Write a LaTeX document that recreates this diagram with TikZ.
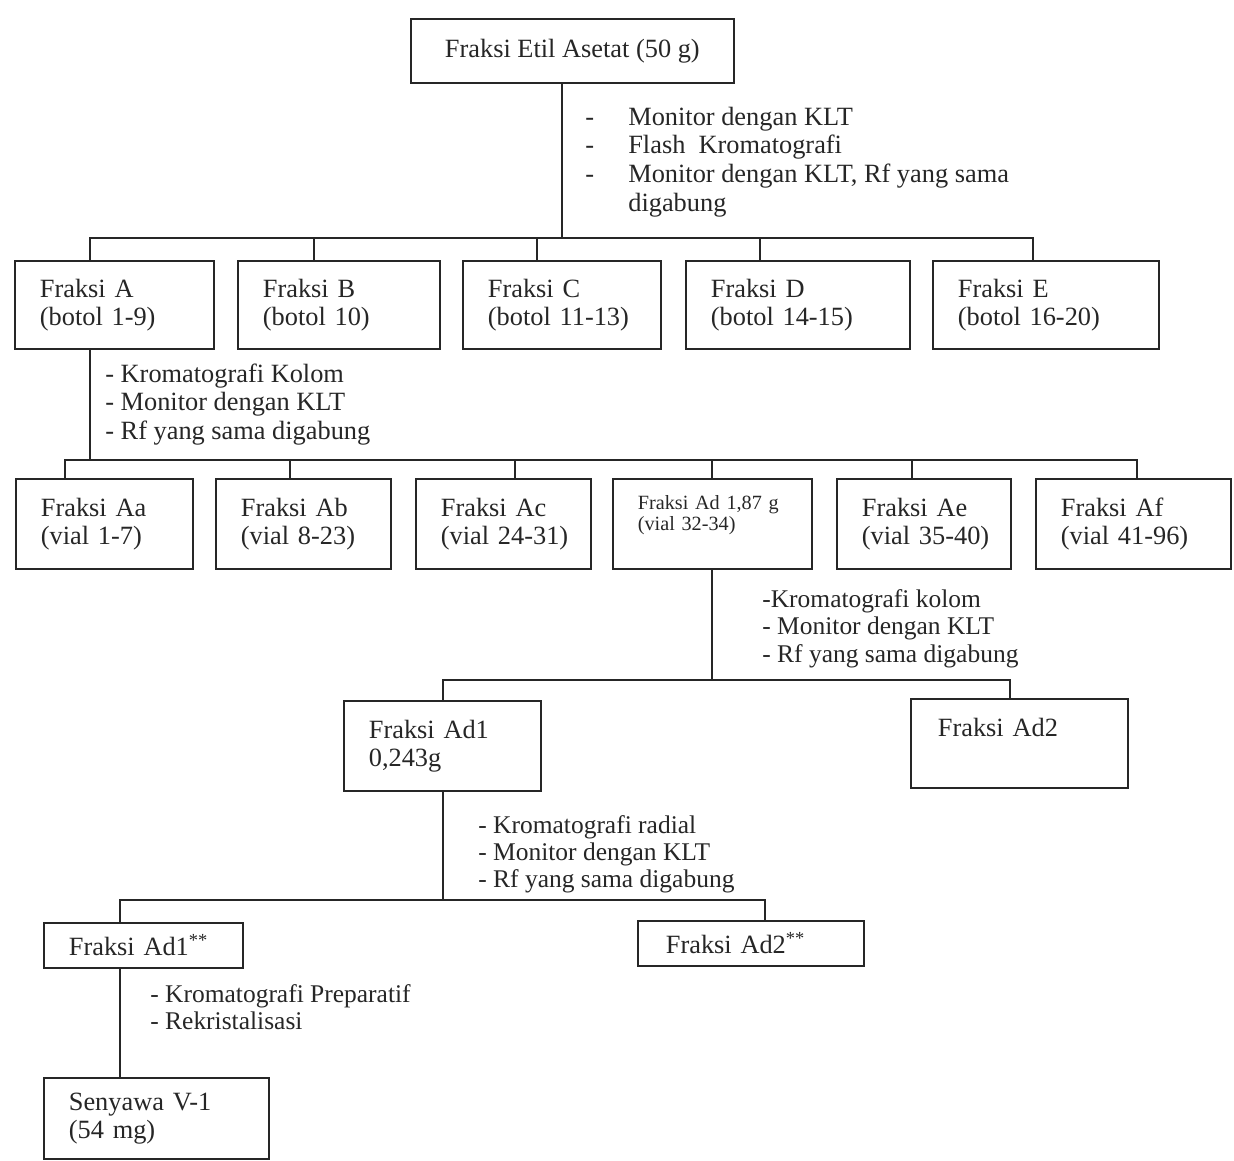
\documentclass[tikz,border=0pt]{standalone}
\usepackage{fontspec}
\setmainfont{Liberation Serif}
\usetikzlibrary{positioning}
\newcommand{\boxfont}{\fontsize{15}{16}\selectfont\exhyphenpenalty=10000\relax\hyphenpenalty=10000\relax}
\tikzset{
  fbox/.style={
    rectangle, draw=black!85, line width=1pt,
    anchor=north west, inner xsep=0.5cm, inner ysep=0pt,
    align=left, text=black!85, font=\boxfont
  },
  steptext/.style={
    anchor=base west, inner sep=0pt, text=black!85,
    font=\fontsize{15}{16.5}\selectfont
  },
  link/.style={line width=1pt, color=black!85},
}

\begin{document}
\begin{tikzpicture}[x=0.02cm,y=-0.02cm]
  \useasboundingbox (0,0) rectangle (1234,1160);
  % boxes
  \node[fbox, align=center, minimum width=6.46cm, minimum height=1.28cm](etil)at(410,18) {Fraksi Etil Asetat (50 g)};
  \node[fbox, text width=2.98cm, minimum height=1.76cm](fA)at(14,260)  {Fraksi~A\\(botol~1-9)};
  \node[fbox, text width=3.04cm, minimum height=1.76cm](fB)at(237,260) {Fraksi~B\\(botol~10)};
  \node[fbox, text width=2.96cm, minimum height=1.76cm](fC)at(462,260) {Fraksi~C\\(botol~11-13)};
  \node[fbox, text width=3.48cm, minimum height=1.76cm](fD)at(685,260) {Fraksi~D\\(botol~14-15)};
  \node[fbox, text width=3.52cm, minimum height=1.76cm](fE)at(932,260) {Fraksi~E\\(botol~16-20)};
  \node[fbox, text width=2.54cm, minimum height=1.8cm](fAa)at(15,478)   {Fraksi~Aa\\(vial~1-7)};
  \node[fbox, text width=2.50cm, minimum height=1.8cm](fAb)at(215,478)  {Fraksi~Ab\\(vial~8-23)};
  \node[fbox, text width=2.50cm, minimum height=1.8cm](fAc)at(415,478)  {Fraksi~Ac\\(vial~24-31)};
  \node[fbox, text width=2.98cm, minimum height=1.8cm,
        font=\fontsize{11.5}{12}\selectfont](fAd)at(612,478)            {Fraksi~Ad~1,87~g\\(vial~32-34)\\\mbox{}};
  \node[fbox, text width=2.48cm, minimum height=1.8cm](fAe)at(836,478)  {Fraksi~Ae\\(vial~35-40)};
  \node[fbox, text width=2.90cm, minimum height=1.8cm](fAf)at(1035,478) {Fraksi~Af\\(vial~41-96)};
  \node[fbox, text width=2.94cm, minimum height=1.8cm](fAd1)at(343,700) {Fraksi~Ad1\\0,243g};
  \node[fbox, inner xsep=0.54cm, text width=3.26cm, minimum height=1.78cm](fAd2)at(910,698) {Fraksi~Ad2\\[2pt]\mbox{}};
  \node[fbox, text width=2.98cm, minimum height=0.9cm](fAda)at(43,922)  {Fraksi~Ad1\textsuperscript{**}};
  \node[fbox, inner xsep=0.56cm, text width=3.40cm, minimum height=0.9cm](fAdb)at(637,920) {Fraksi~Ad2\textsuperscript{**}};
  \node[fbox, text width=3.50cm, minimum height=1.62cm](senyawa)at(43,1077) {Senyawa~V-1\\(54~mg)};
  % steps
  \node[steptext](ket1)at(585,125){\begin{tabular}[t]{@{}p{0.86cm}@{}l@{}}
    -&Monitor dengan KLT\\
    -&Flash\ \ Kromatografi\\
    -&Monitor dengan KLT, Rf yang sama\\
     &digabung\end{tabular}};
  \node[steptext](ket2)at(105,382){\begin{tabular}[t]{@{}l@{}}
    - Kromatografi Kolom\\- Monitor dengan KLT\\- Rf yang sama digabung\end{tabular}};
  \node[steptext, font=\fontsize{14.5}{15.8}\selectfont](ket3)at(762,607){\begin{tabular}[t]{@{}l@{}}
    -Kromatografi kolom\\- Monitor dengan KLT\\- Rf yang sama digabung\end{tabular}};
  \node[steptext, font=\fontsize{14.5}{15.6}\selectfont](ket4)at(478,833){\begin{tabular}[t]{@{}l@{}}
    - Kromatografi radial\\- Monitor dengan KLT\\- Rf yang sama digabung\end{tabular}};
  \node[steptext, font=\fontsize{14.5}{15.6}\selectfont](ket5)at(150,1002){\begin{tabular}[t]{@{}l@{}}
    - Kromatografi Preparatif\\- Rekristalisasi\end{tabular}};
  % branch points
  \coordinate(b0)at(562,238);
  \coordinate(bA)at(90,238);  \coordinate(bB)at(314,238); \coordinate(bC)at(537,238);
  \coordinate(bD)at(760,238); \coordinate(bE)at(1033,238);
  \coordinate(c0)at(90,460);
  \coordinate(cAa)at(65,460);  \coordinate(cAb)at(290,460); \coordinate(cAc)at(515,460);
  \coordinate(cAd)at(712,460); \coordinate(cAe)at(912,460); \coordinate(cAf)at(1137,460);
  \coordinate(d0)at(712,680); \coordinate(dL)at(443,680); \coordinate(dR)at(1010,680);
  \coordinate(e0)at(443,900); \coordinate(eL)at(120,900); \coordinate(eR)at(765,900);
  % lines
  \draw[link](b0 |- etil.south)--(b0);
  \draw[link](bA |- fA.north)--(bA)--(bE)--(bE |- fE.north);
  \draw[link](bB)--(bB |- fB.north);
  \draw[link](bC)--(bC |- fC.north);
  \draw[link](bD)--(bD |- fD.north);
  \draw[link](c0 |- fA.south)--(c0);
  \draw[link](cAa |- fAa.north)--(cAa)--(cAf)--(cAf |- fAf.north);
  \draw[link](cAb)--(cAb |- fAb.north);
  \draw[link](cAc)--(cAc |- fAc.north);
  \draw[link](cAd)--(cAd |- fAd.north);
  \draw[link](cAe)--(cAe |- fAe.north);
  \draw[link](d0 |- fAd.south)--(d0);
  \draw[link](dL |- fAd1.north)--(dL)--(dR)--(dR |- fAd2.north);
  \draw[link](e0 |- fAd1.south)--(e0);
  \draw[link](eL |- fAda.north)--(eL)--(eR)--(eR |- fAdb.north);
  \draw[link](eL |- fAda.south)--(eL |- senyawa.north);
\end{tikzpicture}
\end{document}
